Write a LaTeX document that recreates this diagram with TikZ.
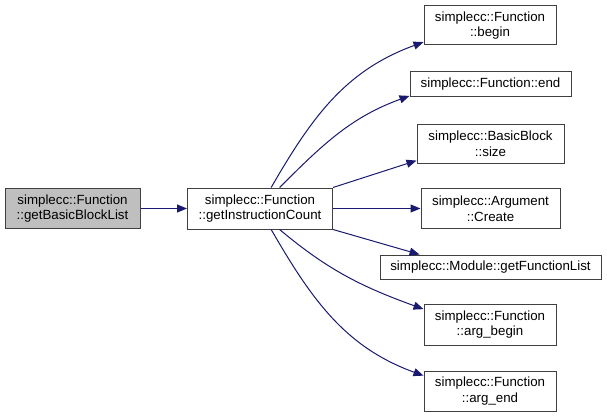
\documentclass[tikz,border=0pt]{standalone}
\usepackage{fontspec}
\setmainfont{Liberation Sans}
\usetikzlibrary{arrows.meta, positioning}
\definecolor{edgeblue}{HTML}{191970}
\tikzstyle{func} = [rectangle, draw=black!75, line width=1pt, fill=white, align=center, inner sep=0pt, font=\fontsize{13.3pt}{15.5pt}\selectfont]
\tikzstyle{root} = [func, fill=black!25]
\tikzstyle{call} = [line width=1pt, draw=edgeblue, -{Triangle[length=10pt, width=8pt, fill=edgeblue]}]

\begin{document}
\begin{tikzpicture}[x=1pt, y=-1pt]
    \useasboundingbox (0,0) rectangle (607,417);
    \node (list) [root, minimum width=135pt, minimum height=40pt] at (72.5,208.5) {simplecc::Function\\::getBasicBlockList};
    \node (count) [func, minimum width=145pt, minimum height=41pt] at (260,208.5) {simplecc::Function\\::getInstructionCount};

    \node (begin) [func, minimum width=132pt, minimum height=39pt] at (490,25.5) {simplecc::Function\\::begin};
    \node (end) [func, minimum width=161pt, minimum height=25pt] at (490.5,84.5) {simplecc::Function::end};
    \node (size) [func, minimum width=147pt, minimum height=39pt] at (490.5,143.5) {simplecc::BasicBlock\\::size};
    \node (create) [func, minimum width=139pt, minimum height=40pt] at (490.5,208.5) {simplecc::Argument\\::Create};
    \node (fnlist) [func, minimum width=221pt, minimum height=24pt] at (490.5,267) {simplecc::Module::getFunctionList};
    \node (argbegin) [func, minimum width=132pt, minimum height=41pt] at (490,324.5) {simplecc::Function\\::arg\_begin};
    \node (argend) [func, minimum width=132pt, minimum height=40pt] at (490,391) {simplecc::Function\\::arg\_end};

    \draw [call] (list) -- (count);

    \draw [call] (count.62) to[out=60, in=200] (begin.194);
    \draw [call] (count.47) to[out=45, in=200] (end.188);
    \draw [call] (count.north east) -- (size.193);
    \draw [call] (count.east) -- (create.west);
    \draw [call] (count.south east) -- (fnlist.170);
    \draw [call] (count.-47) to[out=-40, in=160] (argbegin.167);
    \draw [call] (count.-62) to[out=-60, in=160] (argend.167);
\end{tikzpicture}
\end{document}
